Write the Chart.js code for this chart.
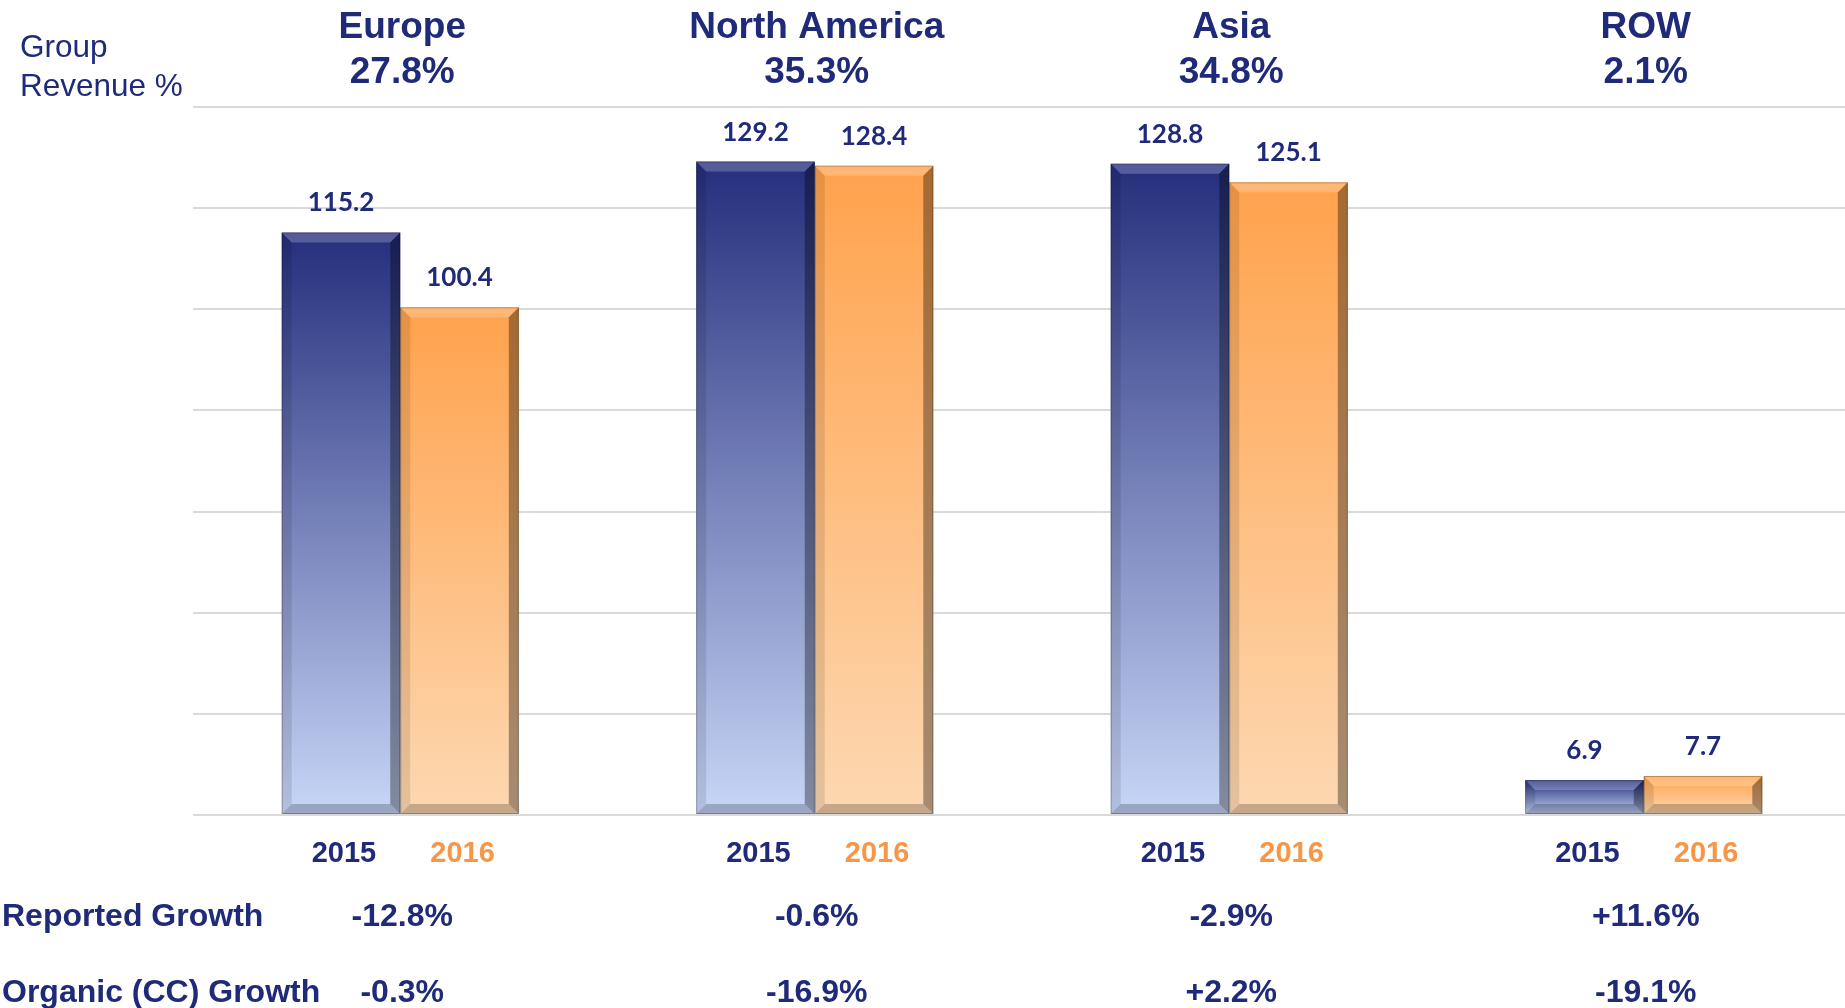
<!DOCTYPE html>
<html>
<head>
<meta charset="utf-8">
<script src="https://cdn.jsdelivr.net/npm/chart.js"></script>
<style>
  html, body { margin: 0; padding: 0; background: #fff; overflow: hidden; }
  canvas { display: block; }
</style>
</head>
<body>
<canvas id="chart" width="1851" height="1008"></canvas>
<script>
// data
const regions = ["Europe", "North America", "Asia", "ROW"];
const revenueShare = ["27.8%", "35.3%", "34.8%", "2.1%"];
const years = ["2015", "2016"];
const sales2015 = [115.2, 129.2, 128.8, 6.9];
const sales2016 = [100.4, 128.4, 125.1, 7.7];
const reportedGrowth = ["-12.8%", "-0.6%", "-2.9%", "+11.6%"];
const organicGrowth = ["-0.3%", "-16.9%", "+2.2%", "-19.1%"];

const NAVY = "#1f2a78";
const ORANGE = "#f79646";
const FONT = "'Liberation Sans', Arial, sans-serif";

// gradient per bar, dark at the top and light at the base
const barGradient = (top, bottom) => (ctx) => {
  const chart = ctx.chart;
  if (!chart.chartArea) return top;
  const y = chart.scales.y;
  const yTop = y.getPixelForValue(ctx.raw);
  const yBase = y.getPixelForValue(0);
  const g = chart.ctx.createLinearGradient(0, yTop, 0, yBase);
  g.addColorStop(0, top);
  g.addColorStop(1, bottom);
  return g;
};

// bevel edges on each bar
const bevelPlugin = {
  id: "bevel",
  afterDatasetsDraw(chart) {
    const ctx = chart.ctx;
    chart.data.datasets.forEach((ds, di) => {
      chart.getDatasetMeta(di).data.forEach((bar) => {
        const l = bar.x - bar.width / 2, r = bar.x + bar.width / 2;
        const t = bar.y, b = bar.base;
        const e = Math.min(10, (b - t) / 3);
        ctx.save();
        const band = (pts, color) => {
          ctx.beginPath();
          ctx.moveTo(pts[0][0], pts[0][1]);
          pts.slice(1).forEach((p) => ctx.lineTo(p[0], p[1]));
          ctx.closePath();
          ctx.fillStyle = color;
          ctx.fill();
        };
        band([[l, t], [r, t], [r - e, t + e], [l + e, t + e]], "rgba(255,255,255,0.22)");
        band([[r, t], [r, b], [r - e, b - e], [r - e, t + e]], "rgba(0,0,0,0.35)");
        band([[l, b], [r, b], [r - e, b - e], [l + e, b - e]], "rgba(0,0,0,0.22)");
        band([[l, t], [l + e, t + e], [l + e, b - e], [l, b]], "rgba(0,0,0,0.1)");
        ctx.strokeStyle = "rgba(0,0,0,0.25)";
        ctx.lineWidth = 1;
        ctx.strokeRect(l + 0.5, t + 0.5, r - l - 1, b - t - 1);
        ctx.restore();
      });
    });
  }
};

// all the text around the plot
const textPlugin = {
  id: "texts",
  afterDraw(chart) {
    const ctx = chart.ctx;
    const x = chart.scales.x;
    ctx.save();
    ctx.textBaseline = "alphabetic";

    // left header
    ctx.textAlign = "left";
    ctx.fillStyle = NAVY;
    ctx.font = "31.5px " + FONT;
    ctx.fillText("Group", 20, 57);
    ctx.fillText("Revenue %", 20, 96);

    // region headers
    ctx.textAlign = "center";
    ctx.font = "bold 37px " + FONT;
    regions.forEach((name, i) => {
      const cx = x.getPixelForValue(i);
      ctx.fillText(name, cx + 2, 38);
      ctx.fillText(revenueShare[i], cx + 2, 83);
    });

    // value labels above bars
    ctx.font = "bold 26px Lato, 'Open Sans', sans-serif";
    ctx.fillStyle = NAVY;
    chart.data.datasets.forEach((ds, di) => {
      chart.getDatasetMeta(di).data.forEach((bar, i) => {
        ctx.fillText(ds.data[i].toFixed(1), bar.x, bar.y - 21);
      });
    });

    // year labels under bars
    ctx.font = "bold 29px " + FONT;
    chart.data.datasets.forEach((ds, di) => {
      ctx.fillStyle = di === 0 ? NAVY : ORANGE;
      chart.getDatasetMeta(di).data.forEach((bar) => {
        ctx.fillText(years[di], bar.x + 3, 862);
      });
    });

    // growth rows
    ctx.fillStyle = NAVY;
    ctx.font = "bold 32px " + FONT;
    ctx.textAlign = "left";
    ctx.fillText("Reported Growth", 2, 926);
    ctx.fillText("Organic (CC) Growth", 2, 1002);
    ctx.textAlign = "center";
    regions.forEach((name, i) => {
      const cx = x.getPixelForValue(i) + 2;
      ctx.fillText(reportedGrowth[i], cx, 926);
      ctx.fillText(organicGrowth[i], cx, 1002);
    });
    ctx.restore();
  }
};

new Chart(document.getElementById("chart"), {
  type: "bar",
  data: {
    labels: regions,
    datasets: [
      {
        label: years[0],
        data: sales2015,
        backgroundColor: barGradient("#242e7c", "#c8d6f7"),
        borderWidth: 0
      },
      {
        label: years[1],
        data: sales2016,
        backgroundColor: barGradient("#ffa24c", "#fdd8b2"),
        borderWidth: 0
      }
    ]
  },
  options: {
    responsive: false,
    animation: false,
    layout: { padding: { left: 193, right: 0, top: 107, bottom: 193 } },
    datasets: { bar: { categoryPercentage: 0.572, barPercentage: 1.0 } },
    plugins: {
      legend: { display: false },
      tooltip: { enabled: false }
    },
    scales: {
      x: { display: false },
      y: {
        min: 0,
        max: 140,
        ticks: { display: false, stepSize: 20 },
        border: { display: false },
        grid: { color: "#d9d9d9", lineWidth: 2, drawTicks: false }
      }
    }
  },
  plugins: [bevelPlugin, textPlugin]
});
</script>
</body>
</html>
